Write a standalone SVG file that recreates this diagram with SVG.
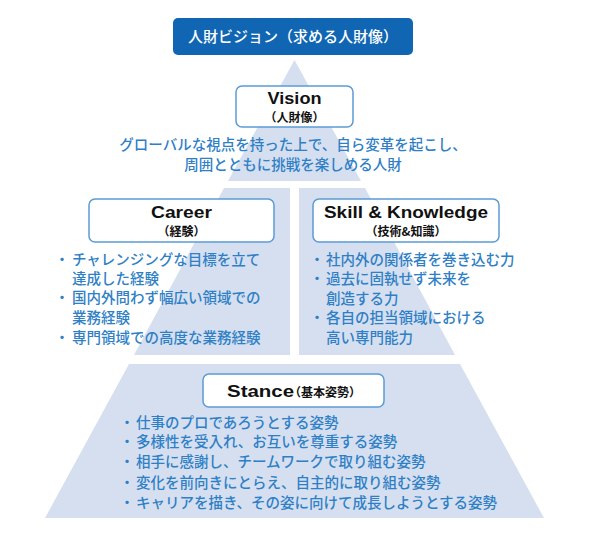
<svg xmlns="http://www.w3.org/2000/svg" width="600" height="534" viewBox="0 0 600 534">
<style>
.tier{fill:#d5dff0}
.box{fill:#ffffff;stroke:#5b9bd5;stroke-width:1.5}
.en{font-family:"Liberation Sans",Arial,sans-serif;font-weight:bold;fill:#111111}
.sub{font-family:"Noto Sans CJK JP",sans-serif;font-weight:bold;font-size:12px;fill:#111111}
.jp{font-family:"Noto Sans CJK JP",sans-serif;font-weight:500;font-size:14.5px;fill:#2f7fc6}
.mid{text-anchor:middle}
</style>
<rect width="600" height="534" fill="#ffffff"/>
<g id="pyramid">
<polygon class="tier" points="294.5,60 228,181 361,181"/>
<polygon class="tier" points="224,188 290,188 290,355 134,355"/>
<polygon class="tier" points="299,188 365,188 455,355 299,355"/>
<polygon class="tier" points="129,364 460,364 544,518 45,518"/>
</g>
<g id="banner">
<rect x="173" y="18" width="240" height="37" rx="5" fill="#1066b3"/>
<text x="293" y="42" class="mid" font-family="'Noto Sans CJK JP',sans-serif" font-size="15" font-weight="500" fill="#ffffff">人財ビジョン（求める人財像）</text>
</g>
<g id="vision">
<rect class="box" x="236" y="86" width="117" height="41" rx="6"/>
<text x="294.5" y="104" class="en mid" font-size="17" textLength="54" lengthAdjust="spacingAndGlyphs">Vision</text>
<text x="294.5" y="122" class="sub mid" font-size="11.5">（人財像）</text>
<text x="293" y="150" class="jp mid">グローバルな視点を持った上で、自ら変革を起こし、</text>
<text x="293" y="170" class="jp mid">周囲とともに挑戦を楽しめる人財</text>
</g>
<g id="career">
<rect class="box" x="89" y="199" width="185" height="43" rx="6"/>
<text x="181.5" y="218" class="en mid" font-size="17" textLength="61" lengthAdjust="spacingAndGlyphs">Career</text>
<text x="181.5" y="236" class="sub mid">（経験）</text>
<text x="62" y="265" class="jp mid">・</text>
<text x="72" y="265" class="jp">チャレンジングな目標を立て</text>
<text x="72" y="284" class="jp">達成した経験</text>
<text x="62" y="303" class="jp mid">・</text>
<text x="72" y="303" class="jp">国内外問わず幅広い領域での</text>
<text x="72" y="323" class="jp">業務経験</text>
<text x="62" y="343" class="jp mid">・</text>
<text x="72" y="343" class="jp">専門領域での高度な業務経験</text>
</g>
<g id="skill">
<rect class="box" x="313" y="199" width="186" height="43" rx="6"/>
<text x="406" y="218" class="en mid" font-size="17" textLength="164" lengthAdjust="spacingAndGlyphs">Skill &amp; Knowledge</text>
<text x="406" y="236" class="sub mid">（技術&amp;知識）</text>
<text x="317" y="265" class="jp mid">・</text>
<text x="326" y="265" class="jp">社内外の関係者を巻き込む力</text>
<text x="317" y="284" class="jp mid">・</text>
<text x="326" y="284" class="jp">過去に固執せず未来を</text>
<text x="326" y="304" class="jp">創造する力</text>
<text x="317" y="323" class="jp mid">・</text>
<text x="326" y="323" class="jp">各自の担当領域における</text>
<text x="326" y="343" class="jp">高い専門能力</text>
</g>
<g id="stance">
<rect class="box" x="203" y="374" width="181" height="33" rx="6"/>
<text x="227" y="397" class="en" font-size="17"><tspan textLength="67" lengthAdjust="spacingAndGlyphs">Stance</tspan><tspan x="289" class="sub">（基本姿勢）</tspan></text>
<text x="127" y="428" class="jp mid">・</text>
<text x="136" y="428" class="jp">仕事のプロであろうとする姿勢</text>
<text x="127" y="447" class="jp mid">・</text>
<text x="136" y="447" class="jp">多様性を受入れ、お互いを尊重する姿勢</text>
<text x="127" y="467" class="jp mid">・</text>
<text x="136" y="467" class="jp">相手に感謝し、チームワークで取り組む姿勢</text>
<text x="127" y="488" class="jp mid">・</text>
<text x="136" y="488" class="jp">変化を前向きにとらえ、自主的に取り組む姿勢</text>
<text x="127" y="508" class="jp mid">・</text>
<text x="136" y="508" class="jp">キャリアを描き、その姿に向けて成長しようとする姿勢</text>
</g>
</svg>
